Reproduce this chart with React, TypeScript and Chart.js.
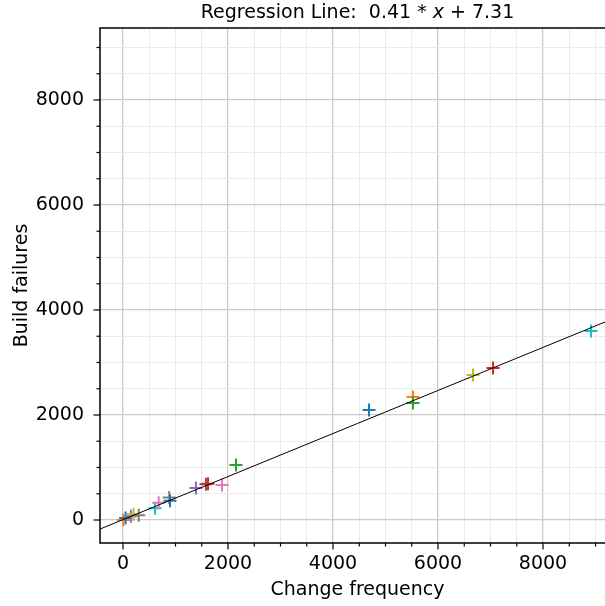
import React, { useEffect, useRef } from "react";
import { Chart, registerables } from "chart.js";

Chart.register(...registerables);

// ---- data ----
const changeFrequency = [6, 50, 150, 200, 300, 610, 680, 880, 895, 1390, 1580, 1620, 1886, 2152, 4686, 5524, 5524, 6667, 7048, 8914];
const buildFailures = [0, 40, 70, 110, 90, 222, 330, 430, 368, 610, 680, 690, 667, 1048, 2095, 2343, 2229, 2762, 2895, 3600];
const pointColors = [
  "#ff7f0e", "#1f77b4", "#9467bd", "#bcbd22", "#7f7f7f",
  "#17becf", "#e377c2", "#7f7f7f", "#1f77b4", "#9467bd",
  "#8c564b", "#d62728", "#e377c2", "#2ca02c", "#1f77b4",
  "#ff7f0e", "#2ca02c", "#bcbd22", "#d62728", "#17becf",
];
const slope = 0.41;
const intercept = 7.31;
const axisMin = -438;
const axisMax = 9371;
const majorTicks = [0, 2000, 4000, 6000, 8000];
const gridValues = [0, 500, 1000, 1500, 2000, 2500, 3000, 3500, 4000, 4500, 5000, 5500, 6000, 6500, 7000, 7500, 8000, 8500, 9000];
const xLabel = "Change frequency";
const yLabel = "Build failures";

const FONT_FAMILY = '"DejaVu Sans", sans-serif';
const FONT_SIZE = 19;

export default function App() {
  const ref = useRef<HTMLCanvasElement>(null);

  useEffect(() => {
    const font = { family: FONT_FAMILY, size: FONT_SIZE };
    const isMajor = (v: number) => majorTicks.includes(v);

    const framePlugin = {
      id: "frame",
      afterDraw(chart: any) {
        const { ctx, chartArea, scales } = chart;
        const { left, top, right, bottom } = chartArea;
        const xs = scales.x;
        const ys = scales.y;
        ctx.save();
        ctx.strokeStyle = "#000";
        ctx.lineWidth = 1.5;
        ctx.strokeRect(left, top, right - left, bottom - top);
        ctx.lineWidth = 1.2;
        for (const v of gridValues) {
          const len = isMajor(v) ? 6.5 : 3.5;
          const px = xs.getPixelForValue(v);
          ctx.beginPath();
          ctx.moveTo(px, bottom);
          ctx.lineTo(px, bottom + len);
          ctx.stroke();
          const py = ys.getPixelForValue(v);
          ctx.beginPath();
          ctx.moveTo(left, py);
          ctx.lineTo(left - len, py);
          ctx.stroke();
        }
        // title with italic x
        const normal = `${FONT_SIZE}px ${FONT_FAMILY}`;
        const italic = `italic ${FONT_SIZE}px ${FONT_FAMILY}`;
        const parts: [string, string][] = [
          ["Regression Line:  ", normal],
          [`${slope.toFixed(2)} * `, normal],
          ["x", italic],
          [` + ${intercept.toFixed(2)}`, normal],
        ];
        let total = 0;
        const widths = parts.map(([t, f]) => {
          ctx.font = f;
          const w = ctx.measureText(t).width;
          total += w;
          return w;
        });
        let cx = (left + right) / 2 - total / 2;
        ctx.fillStyle = "#000";
        ctx.textAlign = "left";
        ctx.textBaseline = "alphabetic";
        parts.forEach(([t, f], i) => {
          ctx.font = f;
          ctx.fillText(t, cx, 18);
          cx += widths[i];
        });
        ctx.restore();
      },
    };

    const gridColor = (ctx: any) => (ctx.tick && isMajor(ctx.tick.value) ? "#cbcbcb" : "#ebebeb");
    const gridWidth = (ctx: any) => (ctx.tick && isMajor(ctx.tick.value) ? 1.3 : 1);

    const fitEnds = [axisMin, axisMax];

    const chart = new Chart(ref.current!, {
      type: "scatter",
      data: {
        datasets: [
          {
            type: "line",
            data: fitEnds.map((x) => ({ x, y: slope * x + intercept })),
            borderColor: "#000",
            borderWidth: 1,
            pointRadius: 0,
            fill: false,
            order: 0,
          } as any,
          {
            data: changeFrequency.map((x, i) => ({ x, y: buildFailures[i] })),
            pointStyle: "cross",
            pointRadius: 6.5,
            pointBorderWidth: 2,
            pointBorderColor: pointColors,
            pointBackgroundColor: pointColors,
            showLine: false,
            order: 1,
          } as any,
        ],
      },
      options: {
        animation: false,
        responsive: false,
        events: [],
        layout: { padding: { top: 28, right: 25, left: 0, bottom: 0 } },
        plugins: {
          legend: { display: false },
          tooltip: { enabled: false },
          title: { display: false },
        },
        scales: {
          x: {
            type: "linear",
            min: axisMin,
            max: axisMax,
            afterBuildTicks: (s: any) => {
              s.ticks = gridValues.map((v) => ({ value: v }));
            },
            afterFit: (s: any) => {
              s.height = 63;
            },
            ticks: {
              callback: (v: any) => (isMajor(v) ? String(v) : ""),
              font,
              color: "#000",
              padding: 10,
              maxRotation: 0,
              autoSkip: false,
            },
            grid: { color: gridColor, lineWidth: gridWidth, drawTicks: false },
            border: { display: false },
            title: {
              display: true,
              text: xLabel,
              font,
              color: "#000",
              padding: { top: 0, bottom: 5 },
            },
          },
          y: {
            type: "linear",
            min: axisMin,
            max: axisMax,
            afterBuildTicks: (s: any) => {
              s.ticks = gridValues.map((v) => ({ value: v }));
            },
            afterFit: (s: any) => {
              s.width = 100;
            },
            ticks: {
              callback: (v: any) => (isMajor(v) ? String(v) : ""),
              font,
              color: "#000",
              padding: 16,
              autoSkip: false,
            },
            grid: { color: gridColor, lineWidth: gridWidth, drawTicks: false },
            border: { display: false },
            title: {
              display: true,
              text: yLabel,
              font,
              color: "#000",
              padding: { top: 11, bottom: 0 },
            },
          },
        },
      } as any,
      plugins: [framePlugin],
    });
    return () => chart.destroy();
  }, []);

  return (
    <div style={{ position: "absolute", left: 0, top: 0, width: 605, height: 606, overflow: "hidden", background: "#fff" }}>
      <canvas ref={ref} width={640} height={606} style={{ display: "block" }} />
    </div>
  );
}
